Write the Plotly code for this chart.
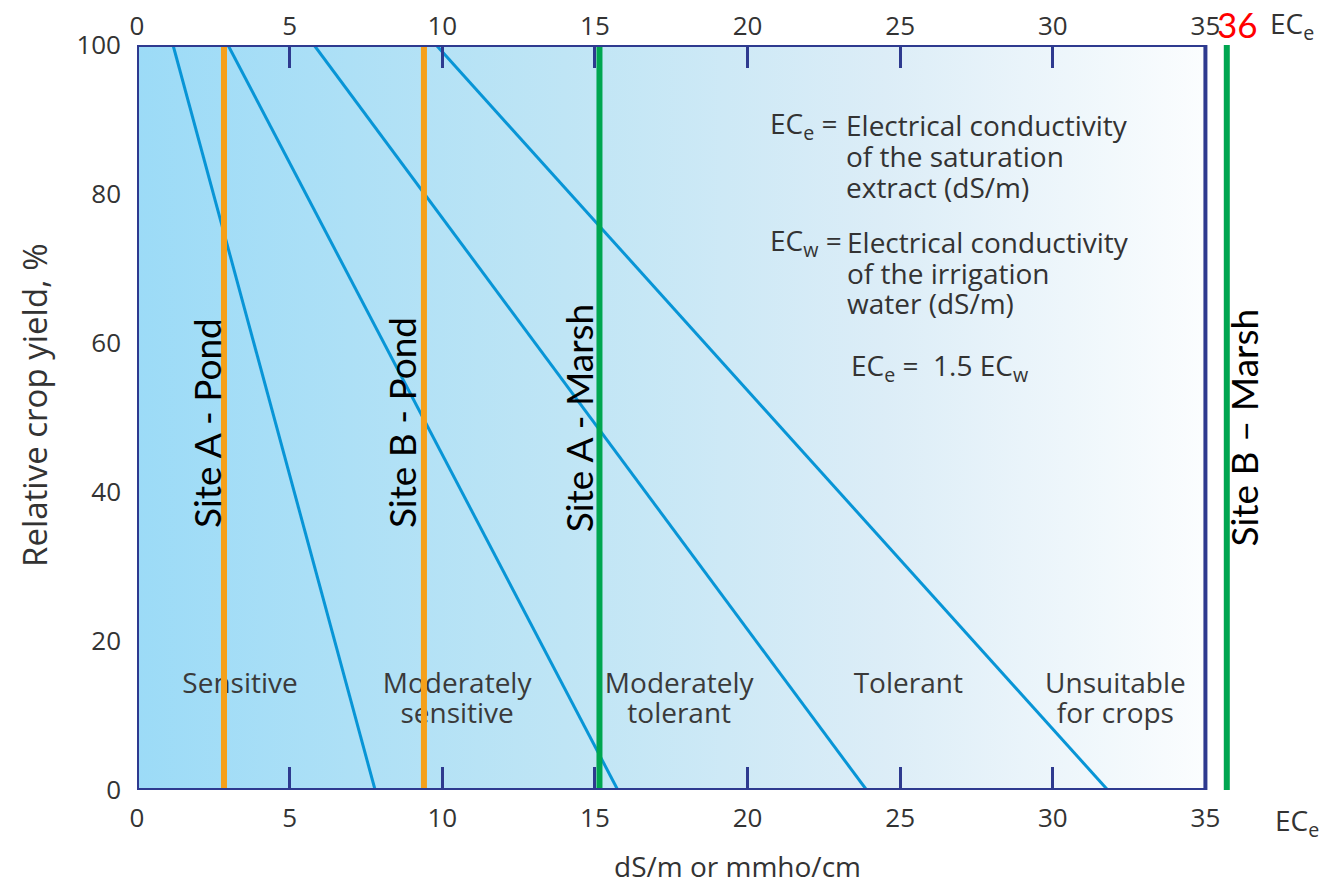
import plotly.graph_objects as go

# ---- data ----
ticks_x = [0, 5, 10, 15, 20, 25, 30, 35]
ticks_y = [0, 20, 40, 60, 80, 100]
# tolerance threshold lines: EC_e where yield = 100 % and where yield = 0 %
line_ece_at_100 = [1.18, 2.98, 5.8, 9.8]
line_ece_at_0 = [7.8, 15.75, 23.9, 31.8]
yield_ends = [100, 0]
# site measurements (EC_e, dS/m)
pond_sites = ["Site A - Pond", "Site B - Pond"]
pond_ece = [2.85, 9.4]
marsh_sites = ["Site A - Marsh", "Site B \u2013 Marsh"]
marsh_ece = [15.15, 35.7]
zones = [["Sensitive"], ["Moderately", "sensitive"], ["Moderately", "tolerant"],
         ["Tolerant"], ["Unsuitable", "for crops"]]

FONT = "Open Sans"
TXT = "#333333"
NAVY = "#2e3a8f"
XMAX = 38.0
OFF = 8  # page body margin
# desired page pixel positions: x=0 at 137, x=35 at 1205, y=100 at 45, y=0 at 790
PXU = (1205 - 137) / 35.0
L = 137 - OFF
T = 45 - OFF
PW = XMAX * PXU
R = 1328 - L - PW
B = 885 - (790 - OFF)
PH = 790 - 45


def px2paper_x(px):
    return (px - 137) / PW


def px2paper_y(py):
    return (790 - py) / PH


def py2data(py):
    return (790 - py) / PH * 100


def px2data(px):
    return (px - 137) / PXU


fig = go.Figure()

# gradient background of the chart area
fig.add_trace(go.Scatter(
    x=[0, 35, 35, 0, 0], y=[0, 0, 100, 100, 0], mode="lines",
    line=dict(width=0), fill="toself",
    fillgradient=dict(type="horizontal",
                      colorscale=[[0, "#9cdbf7"], [0.4, "#bfe5f5"], [0.7, "#dcedf7"], [1, "#fbfdfe"]]),
    hoverinfo="skip", showlegend=False))

# tolerance lines
for a, b in zip(line_ece_at_100, line_ece_at_0):
    fig.add_trace(go.Scatter(x=[a, b], y=yield_ends, mode="lines",
                             line=dict(color="#0895d6", width=3),
                             showlegend=False, hoverinfo="skip"))

# zone labels (text trace so the site lines are drawn over them, as in the reference)
zone_cx = [240, 457, 679, 908, 1115]
zx, zy, zt = [], [], []
for lines, cx in zip(zones, zone_cx):
    for i, s in enumerate(lines):
        zx.append(px2data(cx))
        zy.append(py2data(686 + 30 * i))
        zt.append(s)
fig.add_trace(go.Scatter(x=zx, y=zy, text=zt, mode="text", textposition="middle center",
                         textfont=dict(family=FONT, size=28, color="#3a3a3a"),
                         showlegend=False, hoverinfo="skip"))

# site lines
for xv in pond_ece:
    fig.add_trace(go.Scatter(x=[xv, xv], y=[0, 100], mode="lines",
                             line=dict(color="#f5a01a", width=6),
                             showlegend=False, hoverinfo="skip"))
for xv in marsh_ece:
    fig.add_trace(go.Scatter(x=[xv, xv], y=[0, 100], mode="lines", xaxis="x2",
                             line=dict(color="#00a650", width=6),
                             showlegend=False, hoverinfo="skip"))

# frame
fig.add_shape(type="rect", xref="x", yref="y", x0=0, x1=35, y0=0, y1=100,
              line=dict(color=NAVY, width=4), layer="above")

C = dict(xanchor="center", yanchor="middle", showarrow=False, borderpad=0)
ann = []
# site labels (rotated)
site_pos = [(206, 423), (401, 423), (578, 418), (1243, 427)]
for name, (px, py) in zip(pond_sites + marsh_sites, site_pos):
    ann.append(dict(text=name, xref="paper", yref="paper", x=px2paper_x(px), y=px2paper_y(py),
                    textangle=-90, font=dict(family="Lato", size=37, color="#000000"), **C))

DEF = dict(family=FONT, size=28, color=TXT)
LM = dict(yanchor="middle", showarrow=False, borderpad=0, font=DEF, xref="x", yref="y")
ann.append(dict(text="EC<sub>e</sub> =", x=px2data(839), y=py2data(125), xanchor="right", **LM))
for i, s in enumerate(["Electrical conductivity", "of the saturation", "extract (dS/m)"]):
    ann.append(dict(text=s, x=px2data(845), y=py2data(125 + 31 * i), xanchor="left", **LM))
ann.append(dict(text="EC<sub>w</sub> =", x=px2data(843), y=py2data(242), xanchor="right", **LM))
for i, s in enumerate(["Electrical conductivity", "of the irrigation", "water (dS/m)"]):
    ann.append(dict(text=s, x=px2data(846), y=py2data(242 + 30.5 * i), xanchor="left", **LM))
ann.append(dict(text="EC<sub>e</sub> =  1.5 EC<sub>w</sub>", x=px2data(850), y=py2data(367),
                xanchor="left", **LM))

# axis titles and extra labels
ann += [
    dict(text="Relative crop yield, %", xref="paper", yref="paper", x=px2paper_x(34), y=px2paper_y(405),
         textangle=-90, font=dict(family=FONT, size=33, color=TXT), **C),
    dict(text="dS/m or mmho/cm", xref="paper", yref="paper", x=px2paper_x(737), y=px2paper_y(866),
         font=dict(family=FONT, size=28, color=TXT), **C),
    dict(text="EC<sub>e</sub>", xref="paper", yref="paper", x=px2paper_x(1274), y=px2paper_y(822),
         xanchor="left", yanchor="middle", showarrow=False, borderpad=0,
         font=dict(family=FONT, size=28, color=TXT)),
    dict(text="EC<sub>e</sub>", xref="paper", yref="paper", x=px2paper_x(1269), y=px2paper_y(25),
         xanchor="left", yanchor="middle", showarrow=False, borderpad=0,
         font=dict(family=FONT, size=28, color=TXT)),
    dict(text="36", xref="paper", yref="paper", x=px2paper_x(1237), y=px2paper_y(24),
         font=dict(family="Lato", size=35, color="#ff0000"), **C),
]

axis_common = dict(range=[0, XMAX], tickvals=ticks_x, ticktext=[str(v) for v in ticks_x],
                   ticks="inside", ticklen=23, tickwidth=3, tickcolor=NAVY,
                   showgrid=False, zeroline=False, showline=False,
                   tickfont=dict(family=FONT, size=26, color=TXT))

fig.update_layout(
    width=1328, height=885,
    margin=dict(l=L, r=R, t=T, b=B, autoexpand=False),
    paper_bgcolor="white", plot_bgcolor="white",
    showlegend=False,
    xaxis=dict(**axis_common, ticklabelstandoff=10),
    xaxis2=dict(**axis_common, overlaying="x", side="top", anchor="y", ticklabelstandoff=4),
    yaxis=dict(range=[0, 100], tickvals=ticks_y, ticks="", showgrid=False, zeroline=False,
               showline=False, tickfont=dict(family=FONT, size=26, color=TXT), ticklabelstandoff=15),
    annotations=ann,
)

fig.write_html("out.html")
